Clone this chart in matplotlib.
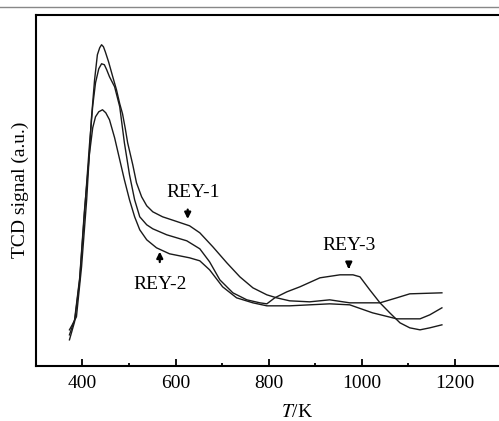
import matplotlib
matplotlib.use("Agg")
import matplotlib.pyplot as plt
from matplotlib.lines import Line2D

plt.rcParams['font.family'] = ['Liberation Serif', 'DejaVu Serif']
plt.rcParams['mathtext.fontset'] = 'stix'

# TPD curves (T in K, signal in a.u.)
t_rey1 = [372, 378, 387, 398, 409, 419, 426, 432, 437, 441, 445, 449, 456, 465, 473, 480,
          486, 492, 497, 508, 516, 527, 538, 551, 572, 598, 630, 652, 680, 710, 738, 766,
          796, 817, 845, 888, 931, 974, 1039, 1075, 1103, 1172]
s_rey1 = [36, 41, 49, 99, 166, 246, 286, 311, 318, 321, 319, 314, 304, 289, 276, 262,
          252, 237, 223, 201, 183, 169, 160, 154, 149, 145, 140, 133, 119, 103, 89, 78,
          71, 68, 65, 64, 66, 63, 63, 68, 72, 73]

t_rey3 = [372, 383, 394, 404, 415, 422, 428, 435, 441, 447, 452, 458, 469, 480, 490, 501,
          512, 523, 538, 551, 581, 624, 652, 673, 695, 723, 753, 781, 796, 813, 839, 867,
          910, 953, 981, 996, 1017, 1039, 1060, 1082, 1103, 1125, 1146, 1172]
s_rey3 = [26, 44, 86, 151, 221, 260, 283, 297, 302, 301, 296, 289, 279, 259, 223, 191,
          166, 149, 141, 137, 131, 125, 117, 104, 86, 73, 66, 63, 62, 68, 74, 79,
          88, 91, 91, 89, 76, 63, 53, 43, 38, 36, 38, 41]

t_rey2 = [372, 383, 394, 404, 415, 422, 428, 435, 443, 450, 458, 469, 480, 490, 501, 512,
          523, 538, 559, 587, 630, 652, 673, 701, 731, 766, 796, 845, 931, 974, 1023, 1075,
          1125, 1146, 1172]
s_rey2 = [31, 46, 88, 154, 212, 238, 249, 254, 256, 253, 246, 228, 206, 186, 166, 149,
          136, 126, 118, 112, 108, 105, 96, 79, 68, 63, 60, 60, 62, 61, 53, 47,
          47, 51, 58]

labels = ["REY-1", "REY-2", "REY-3"]
label_xy = [(637, 173), (566, 81), (972, 120)]
arrow_from = [(626, 159), (566, 101), (972, 104)]
arrow_to = [(626, 144), (566, 117), (972, 94)]

fig = plt.figure(figsize=(4.99, 4.21), dpi=100)
ax = fig.add_axes([0.072, 0.131, 0.933, 0.834])

for t, s in [(t_rey1, s_rey1), (t_rey2, s_rey2), (t_rey3, s_rey3)]:
    ax.plot(t, s, color="#1a1a1a", lw=1.0)

for lab, xy, a0, a1 in zip(labels, label_xy, arrow_from, arrow_to):
    ax.text(xy[0], xy[1], lab, fontsize=14, ha="center", va="center")
    ax.annotate("", xy=a1, xytext=a0,
                arrowprops=dict(arrowstyle="-|>", color="black", lw=1.6, mutation_scale=9))

ax.set_xlim(300, 1300)
ax.set_ylim(0, 351)
ax.set_xticks([400, 600, 800, 1000, 1200])
ax.set_xticks([500, 700, 900, 1100], minor=True)
ax.set_yticks([])
ax.tick_params(axis="x", which="major", direction="in", length=5, width=1.3,
               labelsize=14, pad=6.5)
ax.tick_params(axis="x", which="minor", direction="in", length=2.5, width=1.3)
for sp in ax.spines.values():
    sp.set_linewidth(1.5)

ax.set_xlabel("$T$/K", fontsize=14)
ax.xaxis.set_label_coords(0.561, -0.108)
ax.set_ylabel("TCD signal (a.u.)", fontsize=14)
ax.yaxis.set_label_coords(-0.015, 0.5)

fig.add_artist(Line2D([0, 1], [1 - 7 / 421, 1 - 7 / 421], color="#888888", lw=1.0,
                      transform=fig.transFigure))

fig.savefig("out.png", dpi=100)
